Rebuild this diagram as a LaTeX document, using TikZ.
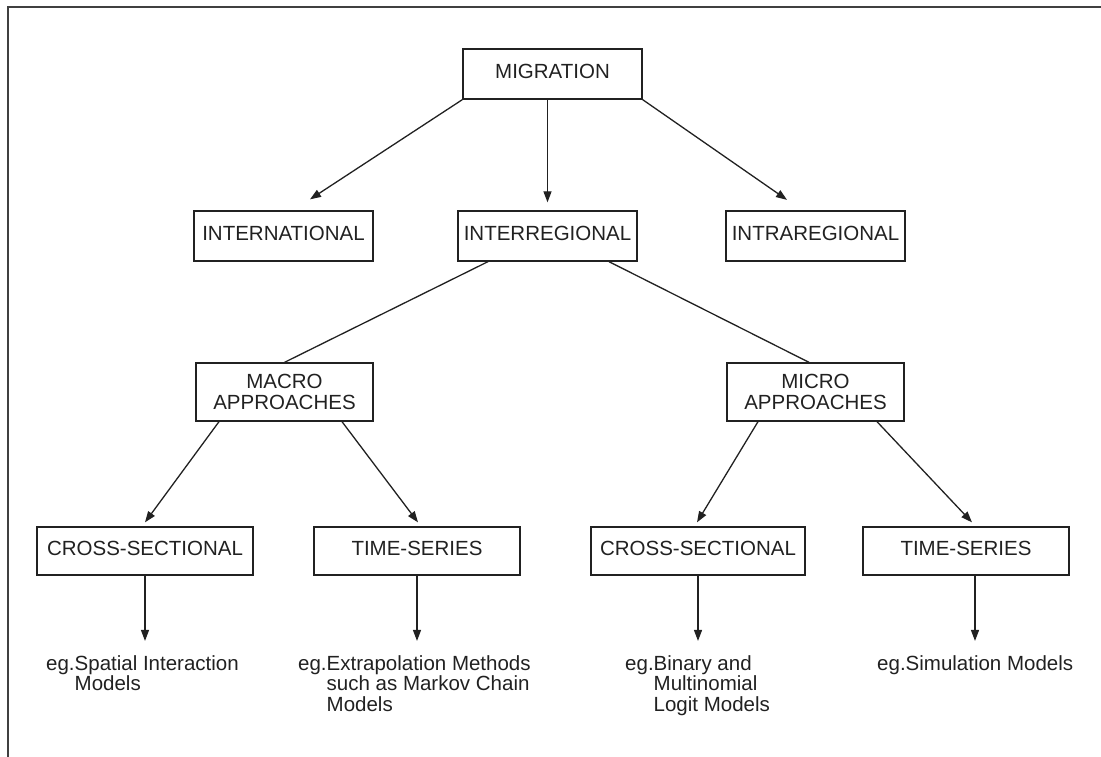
\documentclass[tikz,border=0pt]{standalone}
\usepackage{fontspec}
\setmainfont{Liberation Sans}
\usetikzlibrary{arrows.meta,calc}
\definecolor{ink}{gray}{0.13}
\definecolor{framec}{gray}{0.25}
\begin{document}
\begin{tikzpicture}[x=1pt,y=-1pt,
  box/.style={draw=ink,line width=1.3pt,text=ink,inner sep=0pt,
    font=\fontsize{20.5}{21}\selectfont,align=center},
  onebox/.style={box,minimum width=179pt,minimum height=50pt,text depth=5pt},
  twobox/.style={box,minimum width=177pt,minimum height=58pt},
  lowbox/.style={box,minimum height=48pt,text depth=5pt},
  lbl/.style={inner sep=0pt,text=ink,font=\fontsize{20.5}{19.5}\selectfont,anchor=base west},
  conn/.style={draw=ink,line width=1.3pt},
  arr/.style={conn,-{Triangle[length=11pt,width=8pt]}},
  frameline/.style={draw=framec,line width=2pt}
]
\useasboundingbox (0,0) rectangle (1101,757);
\draw[frameline] (8,757) -- (8,7) -- (1101,7);

% boxes
\node[onebox] (mig)   at (552.5,74)  {MIGRATION};
\node[onebox] (intl)  at (283.5,236) {INTERNATIONAL};
\node[onebox] (inter) at (547.5,236) {INTERREGIONAL};
\node[onebox] (intra) at (815.5,236) {INTRAREGIONAL};
\node[twobox] (macro) at (284.5,392) {MACRO\\APPROACHES};
\node[twobox] (micro) at (815.5,392) {MICRO\\APPROACHES};
\node[lowbox,minimum width=216pt] (cs1) at (145,551) {CROSS-SECTIONAL};
\node[lowbox,minimum width=206pt] (ts1) at (417,551) {TIME-SERIES};
\node[lowbox,minimum width=214pt] (cs2) at (698,551) {CROSS-SECTIONAL};
\node[lowbox,minimum width=206pt] (ts2) at (966,551) {TIME-SERIES};

% labels
\node[lbl] (l1) at (46,670)  {\begin{tabular}[t]{@{}l@{}l@{}}eg.&Spatial Interaction\\&Models\end{tabular}};
\node[lbl] (l2) at (298,670) {\begin{tabular}[t]{@{}l@{}l@{}}eg.&Extrapolation Methods\\&such as Markov Chain\\&Models\end{tabular}};
\node[lbl] (l3) at (625,670) {\begin{tabular}[t]{@{}l@{}l@{}}eg.&Binary and\\&Multinomial\\&Logit Models\end{tabular}};
\node[lbl] (l4) at (877,670) {eg.Simulation Models};

% connectors
\draw[arr] (mig.south west) -- ([xshift=26.5pt,yshift=11pt]intl.north);
\draw[arr] (mig.south -| inter.north) -- ([yshift=8pt]inter.north);
\draw[arr] (mig.south east) -- ([xshift=-28.5pt,yshift=10.5pt]intra.north);

\draw[conn] ([xshift=-59.5pt]inter.south) -- (macro.north);
\draw[conn] ([xshift=61.5pt]inter.south) -- ([xshift=-6.5pt]micro.north);

\draw[arr] ([xshift=-65.5pt]macro.south) -- ([yshift=4pt]cs1.north);
\draw[arr] ([xshift=57.5pt]macro.south) -- ([xshift=1pt,yshift=4pt]ts1.north);
\draw[arr] ([xshift=-57.5pt]micro.south) -- ([xshift=-1pt,yshift=4pt]cs2.north);
\draw[arr] ([xshift=61.5pt]micro.south) -- ([xshift=6pt,yshift=4pt]ts2.north);

\draw[arr] (cs1.south) -- ($(cs1.south |- l1.north)+(0,-14)$);
\draw[arr] (ts1.south) -- ($(ts1.south |- l2.north)+(0,-14)$);
\draw[arr] (cs2.south) -- ($(cs2.south |- l3.north)+(0,-14)$);
\draw[arr] ([xshift=9pt]ts2.south) -- ($([xshift=9pt]ts2.south |- l4.north)+(0,-14)$);
\end{tikzpicture}
\end{document}
